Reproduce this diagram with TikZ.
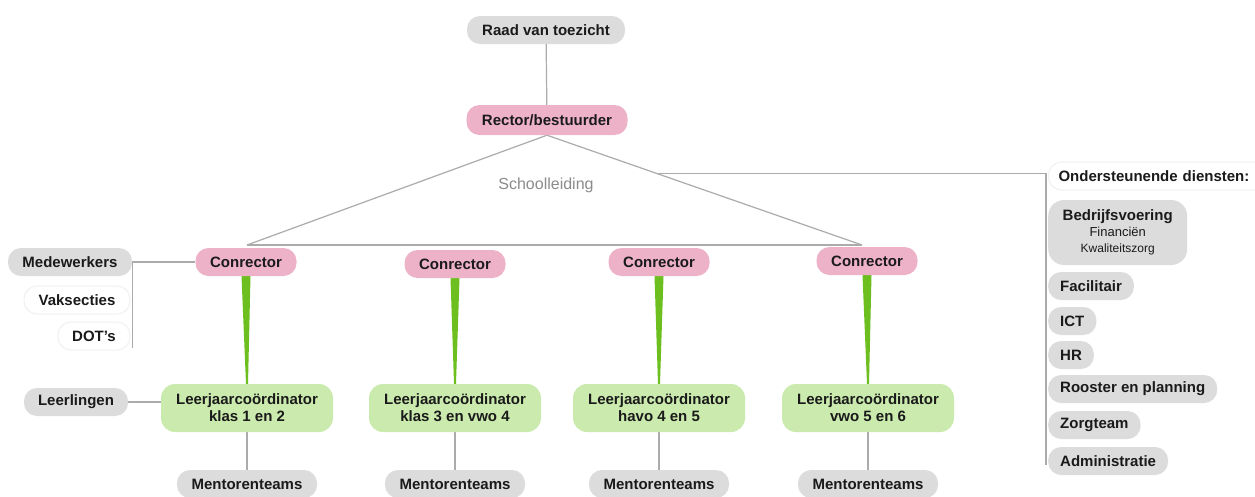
\documentclass[tikz,border=0pt]{standalone}
\usepackage{fontspec}
\setmainfont{Liberation Sans}
\usetikzlibrary{calc,backgrounds}
\definecolor{boxgrey}{HTML}{DCDCDC}
\definecolor{boxpink}{HTML}{EDB2C8}
\definecolor{boxgreen}{HTML}{CBEBAE}
\definecolor{linegrey}{HTML}{ABABAB}
\definecolor{taper}{HTML}{6CBF1F}
\definecolor{txt}{HTML}{1A1A1A}
\begin{document}
\begin{tikzpicture}[x=1pt,y=-1pt,
  box/.style={rounded corners=13pt, inner sep=0pt, minimum height=28pt, align=center,
    font=\bfseries\fontsize{15}{17}\selectfont, text=txt},
  greybox/.style={box, fill=boxgrey},
  pinkbox/.style={box, fill=boxpink},
  greenbox/.style={box, fill=boxgreen, minimum width=172pt, minimum height=48pt, rounded corners=14pt},
  whitebox/.style={box, fill=white, draw=black!6, line width=1pt},
  sidebox/.style={greybox, anchor=west, inner xsep=12pt},
  link/.style={draw=linegrey, line width=1.2pt},
]
\useasboundingbox (0,0) rectangle (1255,496);
\clip (0,0) rectangle (1255,496);

\node[greybox, minimum width=158pt] (raad) at (546,30) {Raad van toezicht};
\node[pinkbox, minimum width=161pt, minimum height=30pt] (rector) at (547,120) {Rector/bestuurder};
\node[font=\fontsize{16}{18}\selectfont, text=black!45] (school) at (546,185) {Schoolleiding};

\node[pinkbox, minimum width=101pt] (c1) at (246,262) {Conrector};
\node[pinkbox, minimum width=101pt] (c2) at (455,264) {Conrector};
\node[pinkbox, minimum width=101pt] (c3) at (659,262) {Conrector};
\node[pinkbox, minimum width=101pt] (c4) at (867,261) {Conrector};

\node[greybox, minimum width=124pt] (med) at (70,262) {Medewerkers};
\node[whitebox, minimum width=106pt] (vak) at (77,300) {Vaksecties};
\node[whitebox, minimum width=72pt] (dot) at (94,336) {DOT's};

\node[greenbox] (l1) at (247,408) {Leerjaarcoördinator\\klas 1 en 2};
\node[greenbox] (l2) at (455,408) {Leerjaarcoördinator\\klas 3 en vwo 4};
\node[greenbox] (l3) at (659,408) {Leerjaarcoördinator\\havo 4 en 5};
\node[greenbox] (l4) at (868,408) {Leerjaarcoördinator\\vwo 5 en 6};

\node[greybox, minimum width=104pt] (leer) at (76,402) {Leerlingen};

\node[greybox, minimum width=140pt] (m1) at (247,484) {Mentorenteams};
\node[greybox, minimum width=140pt] (m2) at (455,484) {Mentorenteams};
\node[greybox, minimum width=140pt] (m3) at (659,484) {Mentorenteams};
\node[greybox, minimum width=140pt] (m4) at (868,484) {Mentorenteams};

\node[whitebox, anchor=west, inner xsep=10pt, text width=210pt, align=left] (ond) at (1048,176) {Ondersteunende diensten:};
\node[greybox, anchor=west, minimum width=139pt, minimum height=65pt, rounded corners=16pt] (bed) at (1048,232.5)
  {Bedrijfsvoering\\[-1pt]{\mdseries\fontsize{13}{14}\selectfont Financiën}\\[-1pt]{\mdseries\fontsize{12}{13}\selectfont Kwaliteitszorg}};
\node[sidebox] (fac) at (1048,286) {Facilitair};
\node[sidebox] (ict) at (1048,321) {ICT};
\node[sidebox] (hr) at (1048,355) {HR};
\node[sidebox] (roo) at (1048,389) {Rooster en planning};
\node[sidebox] (zor) at (1048,425) {Zorgteam};
\node[sidebox] (adm) at (1048,461) {Administratie};

\begin{scope}[on background layer]
  \fill[white] (0,0) rectangle (1255,496);
  \coordinate (hl) at (247,245);
  \coordinate (hr) at (862,245);
  \coordinate (vb) at (1046,465);
  \coordinate (mb) at (132,348);
  \draw[link] (raad) -- (rector);
  \draw[link] (rector.south) -- (hl);
  \draw[link] (rector.south) -- (hr);
  \draw[link] (hl) -- (hr);
  \coordinate (j) at ($(rector.south)!0.35!(hr)$);
  \draw[link] (j) -| (vb);
  \draw[link] (med.east) -- (c1.west);
  \draw[link] (med.east) -- (med.east |- mb);
  \draw[link] (leer.east) -- (leer.east -| l1.west);
  \foreach \l/\m in {l1/m1,l2/m2,l3/m3,l4/m4}
    \draw[link] (\l) -- (\m);
  \foreach \c/\l in {c1/l1,c2/l2,c3/l3,c4/l4}
    \fill[taper] ($(\c.south)+(-4.5,0)$) -- ($(\c.south)+(4.5,0)$) -- ($(\l.north)+(1,0)$) -- ($(\l.north)+(-1,0)$) -- cycle;
\end{scope}
\end{tikzpicture}
\end{document}
